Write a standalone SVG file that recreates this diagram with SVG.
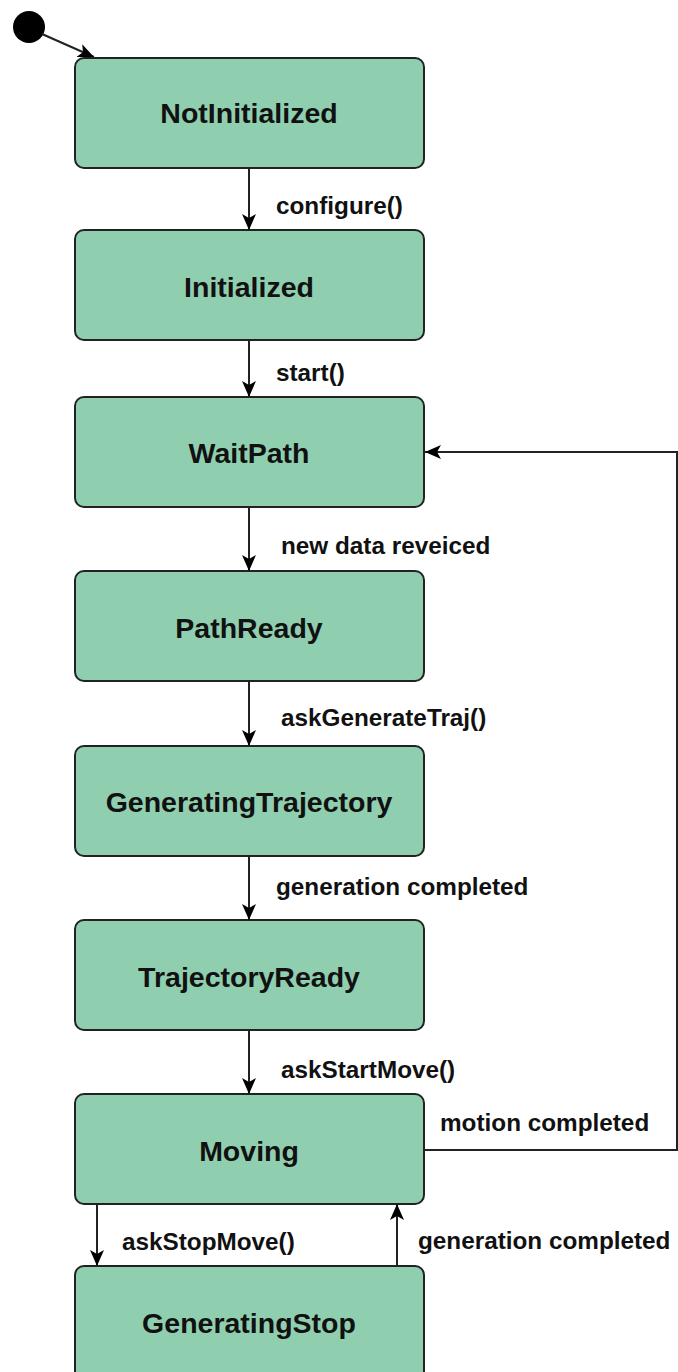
<svg xmlns="http://www.w3.org/2000/svg" width="678" height="1372" viewBox="0 0 678 1372">
  <style>
    .state rect { fill: #8fcfb0; stroke: #222; stroke-width: 2; }
    .state text { font-family: "Liberation Sans", Arial, sans-serif; font-weight: bold; font-size: 28.5px; fill: #111; text-anchor: middle; }
    .edge { fill: none; stroke: #222; stroke-width: 2; }
    .lbl { font-family: "Liberation Sans", Arial, sans-serif; font-weight: bold; font-size: 24.3px; fill: #111; }
  </style>
  <defs>
    <marker id="arrow" viewBox="0 0 16 14" refX="16" refY="7" markerWidth="16" markerHeight="14" markerUnits="userSpaceOnUse" orient="auto">
      <path d="M0,0 L16,7 L0,14 L4,7 Z" fill="#000"/>
    </marker>
  </defs>

  <!-- initial pseudo-state -->
  <g id="start">
    <circle cx="29" cy="27" r="16" fill="#000"/>
  </g>

  <g id="NotInitialized" class="state">
    <rect x="75" y="58" width="349" height="110" rx="9"/>
    <text x="249" y="123">NotInitialized</text>
  </g>
  <g id="Initialized" class="state">
    <rect x="75" y="230" width="349" height="110" rx="9"/>
    <text x="249" y="297">Initialized</text>
  </g>
  <g id="WaitPath" class="state">
    <rect x="75" y="397" width="349" height="110" rx="9"/>
    <text x="249" y="463">WaitPath</text>
  </g>
  <g id="PathReady" class="state">
    <rect x="75" y="571" width="349" height="110" rx="9"/>
    <text x="249" y="638">PathReady</text>
  </g>
  <g id="GeneratingTrajectory" class="state">
    <rect x="75" y="746" width="349" height="110" rx="9"/>
    <text x="249" y="812">GeneratingTrajectory</text>
  </g>
  <g id="TrajectoryReady" class="state">
    <rect x="75" y="920" width="349" height="110" rx="9"/>
    <text x="249" y="987">TrajectoryReady</text>
  </g>
  <g id="Moving" class="state">
    <rect x="75" y="1094" width="349" height="110" rx="9"/>
    <text x="249" y="1161">Moving</text>
  </g>
  <g id="GeneratingStop" class="state">
    <rect x="75" y="1266" width="349" height="120" rx="9"/>
    <text x="249" y="1333">GeneratingStop</text>
  </g>

  <g id="connectors">
    <path class="edge" d="M42,34 L94,57" marker-end="url(#arrow)"/>
    <path class="edge" d="M249,168 V230" marker-end="url(#arrow)"/>
    <path class="edge" d="M249,340 V397" marker-end="url(#arrow)"/>
    <path class="edge" d="M249,507 V571" marker-end="url(#arrow)"/>
    <path class="edge" d="M249,681 V746" marker-end="url(#arrow)"/>
    <path class="edge" d="M249,856 V920" marker-end="url(#arrow)"/>
    <path class="edge" d="M249,1030 V1094" marker-end="url(#arrow)"/>
    <path class="edge" d="M424,1150 H677 V452 H425" marker-end="url(#arrow)"/>
    <path class="edge" d="M97,1204 V1266" marker-end="url(#arrow)"/>
    <path class="edge" d="M397,1266 V1204" marker-end="url(#arrow)"/>

    <text class="lbl" x="276" y="214">configure()</text>
    <text class="lbl" x="276" y="381">start()</text>
    <text class="lbl" x="281" y="554">new data reveiced</text>
    <text class="lbl" x="281" y="726">askGenerateTraj()</text>
    <text class="lbl" x="276" y="895">generation completed</text>
    <text class="lbl" x="281" y="1078">askStartMove()</text>
    <text class="lbl" x="440" y="1131">motion completed</text>
    <text class="lbl" x="122" y="1250">askStopMove()</text>
    <text class="lbl" x="418" y="1249">generation completed</text>
  </g>
</svg>
